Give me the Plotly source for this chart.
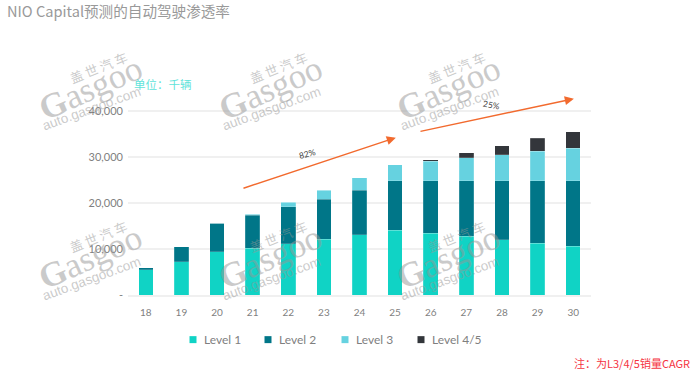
import plotly.graph_objects as go

years = ["18","19","20","21","22","23","24","25","26","27","28","29","30"]
level1 = [5500,7250,9350,10200,11150,12170,13100,14100,13470,12750,12000,11200,10650]
level2 = [400,3250,6300,7100,8050,8700,9650,10750,11380,12100,12850,13650,14200]
level3 = [0,0,0,300,1000,1930,2750,3450,4200,4950,5650,6350,7100]
level45 = [0,0,0,0,0,0,0,0,350,1100,2000,2900,3550]
series = [("Level 1",level1,"#10D3C5"),("Level 2",level2,"#007688"),
          ("Level 3",level3,"#66D2E0"),("Level 4/5",level45,"#33363B")]
legend_x = [193,268,345,421]
y_ticks = [0,10000,20000,30000,40000]
y_labels = ["-","10,000","20,000","30,000","40,000"]

W,H = 700,370
L,R,T,B = 128,591,88,295.3
def px(x,y,xanchor="center"):
    return dict(xref="paper",yref="paper",x=(x-L)/(R-L),y=(B-y)/(B-T),xanchor=xanchor,yanchor="middle")

fig = go.Figure()
for name,vals,col in series:
    fig.add_bar(x=years,y=vals,name=name,
                marker=dict(color=col,line=dict(color="rgba(255,255,255,0.35)",width=0.5)),width=0.41)

ann = []
shapes = []
WM = "rgba(150,150,150,0.5)"
for dx in (0,180,358):
    for dy in (0,170):
        ann.append(dict(text="盖 世 汽 车",textangle=-22,showarrow=False,font=dict(size=13,color=WM,family="Noto Sans CJK SC"),**px(98+dx,67+dy)))
        ann.append(dict(text="<b>G</b>asgoo",textangle=-24,showarrow=False,font=dict(size=35,color=WM,family="Liberation Serif"),**px(90+dx,88+dy)))
        ann.append(dict(text="auto.gasgoo.com",textangle=-20,showarrow=False,font=dict(size=13.5,color=WM,family="Liberation Sans"),**px(92+dx,109+dy)))

for (name,_,col),lx in zip(series,legend_x):
    a = px(lx-3.5,340); b = px(lx+3.5,340)
    shapes.append(dict(type="rect",xref="paper",yref="paper",x0=a["x"],x1=b["x"],y0=(B-343.5)/(B-T),y1=(B-336.5)/(B-T),
                       fillcolor=col,line_width=0))
    ann.append(dict(text=name,showarrow=False,font=dict(size=12,color="#7f7f7f",family="Lato"),**px(lx+9,340,"left")))

ann.append(dict(text="单位：千辆",showarrow=False,font=dict(size=11.5,color="#5FE3DA",family="Noto Sans CJK SC"),**px(163,84)))
ann.append(dict(text="82%",textangle=-15,showarrow=False,font=dict(size=8.5,color="#444",family="Lato"),**px(307,154)))
ann.append(dict(text="25%",textangle=10,showarrow=False,font=dict(size=8.5,color="#444",family="Lato"),**px(491,105)))
ann.append(dict(text="注：为L3/4/5销量CAGR",showarrow=False,font=dict(size=11,color="#F5333F",family="Noto Sans CJK SC"),**px(632,363)))
for x0,y0,x1,y1 in [(2.70,23100,7.02,34200),(7.67,35500,12.02,42670)]:
    ann.append(dict(xref="x",yref="y",axref="x",ayref="y",x=x1,y=y1,ax=x0,ay=y0,text="",showarrow=True,
                    arrowhead=2,arrowsize=1.3,arrowwidth=1.4,arrowcolor="#F26A2E"))

fig.update_layout(
    width=W,height=H,barmode="stack",bargap=0.6,showlegend=False,
    margin=dict(l=L,r=W-R,t=T,b=H-B,pad=0),
    paper_bgcolor="white",plot_bgcolor="white",
    title=dict(text="NIO Capital预测的自动驾驶渗透率",xref="container",yref="container",x=7/W,y=1-12/H,
               xanchor="left",yanchor="middle",font=dict(size=14.6,color="#999999",family="Noto Sans CJK SC")),
    font=dict(family="Lato",color="#7f7f7f"),
    xaxis=dict(type="category",tickfont=dict(size=10,color="#7f7f7f"),showgrid=False,linecolor="#f0f0f0",linewidth=2,ticks="",ticklabelstandoff=7),
    yaxis=dict(range=[0,45000],tickvals=y_ticks,ticktext=y_labels,tickfont=dict(size=11,color="#7f7f7f"),
               gridcolor="#f0f0f0",gridwidth=2,zeroline=False,ticks="",ticklabelstandoff=4),
    annotations=ann,shapes=shapes,
)
fig.write_html("out.html",post_script="document.body.style.margin='0';",config=dict(displayModeBar=False))
